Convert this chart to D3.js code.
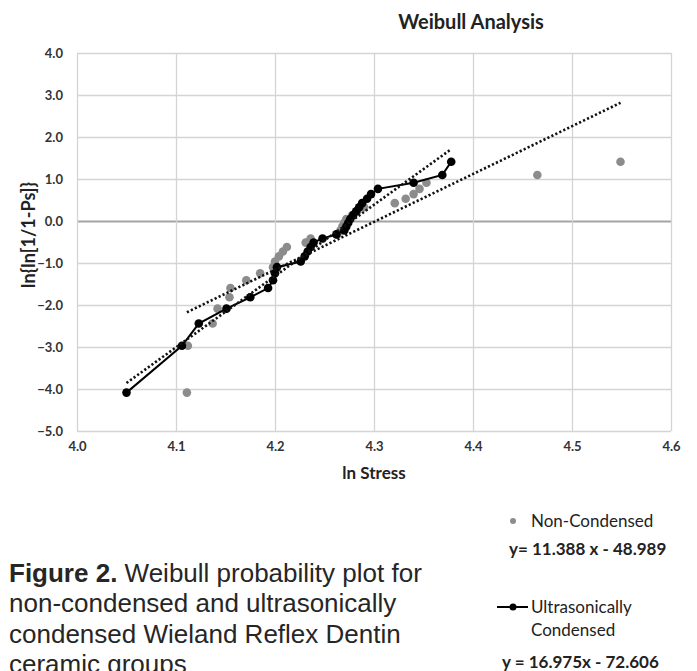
<!DOCTYPE html>
<html lang="en">
  <head>
    <meta charset="utf-8">
    <title>Weibull Analysis</title>
    <script src="https://d3js.org/d3.v7.min.js"></script>
    <style>
      body { margin: 0; background: #fff; }
      svg { display: block; }
    </style>
  </head>
  <body>
    <div id="chart"></div>
    <script>
      // ln{ln[1/(1-Ps)]} values, 30 specimens per group
      var weibullY = [-4.086, -2.970, -2.442, -2.087, -1.817, -1.597, -1.410, -1.246, -1.099, -0.966,
                      -0.842, -0.727, -0.618, -0.514, -0.415, -0.319, -0.225, -0.133, -0.042, 0.049,
                      0.140, 0.232, 0.327, 0.425, 0.529, 0.640, 0.765, 0.910, 1.097, 1.410];

      // ln Stress, non-condensed group (grey dots)
      var nonCondX = [4.111, 4.112, 4.137, 4.142, 4.154, 4.155, 4.171, 4.185, 4.198, 4.200,
                      4.204, 4.208, 4.212, 4.231, 4.236, 4.263, 4.266, 4.268, 4.270, 4.272,
                      4.278, 4.283, 4.290, 4.321, 4.332, 4.340, 4.346, 4.353, 4.465, 4.549];

      // ln Stress, ultrasonically condensed group (black line + dots)
      var ultraX = [4.050, 4.106, 4.123, 4.151, 4.175, 4.193, 4.198, 4.200, 4.202, 4.226,
                    4.230, 4.233, 4.236, 4.239, 4.248, 4.262, 4.270, 4.272, 4.274, 4.276,
                    4.279, 4.282, 4.285, 4.288, 4.293, 4.297, 4.304, 4.340, 4.369, 4.378];

      // trendlines from the legend
      var nonCondFit = {slope: 11.388, intercept: -48.989};
      var ultraFit = {slope: 16.975, intercept: -72.606};

      var xTicks = [4.0, 4.1, 4.2, 4.3, 4.4, 4.5, 4.6];
      var yTicks = [-5, -4, -3, -2, -1, 0, 1, 2, 3, 4];

      var captionLines = [
        "non-condensed and ultrasonically",
        "condensed Wieland Reflex Dentin",
        "ceramic groups"
      ];

      var W = 697, H = 671;
      var margin = {top: 53, left: 77, right: 26, bottom: 240};
      var innerW = W - margin.left - margin.right;
      var innerH = H - margin.top - margin.bottom;

      var svg = d3.select("#chart").append("svg")
        .attr("width", W)
        .attr("height", H);

      var xScale = d3.scaleLinear().domain([4.0, 4.6]).range([margin.left, margin.left + innerW]);
      var yScale = d3.scaleLinear().domain([-5, 4]).range([margin.top + innerH, margin.top]);

      var LABEL_FONT = "Lato, 'Open Sans', sans-serif";

      // grid + axes
      var yAxis = d3.axisLeft(yScale)
        .tickValues(yTicks)
        .tickSize(-innerW)
        .tickPadding(14)
        .tickFormat(d3.format(".1f"));
      var gy = svg.append("g")
        .attr("transform", `translate(${margin.left},0)`)
        .call(yAxis);

      var xAxis = d3.axisBottom(xScale)
        .tickValues(xTicks)
        .tickSize(-innerH)
        .tickPadding(11)
        .tickFormat(d3.format(".1f"));
      var gx = svg.append("g")
        .attr("transform", `translate(0,${margin.top + innerH})`)
        .call(xAxis);

      [gx, gy].forEach(function(g) {
        g.select(".domain").remove();
        g.selectAll(".tick line").attr("stroke", "#d4d4d4").attr("stroke-width", 1.3);
        g.selectAll(".tick text")
          .attr("fill", "#333")
          .style("font-family", LABEL_FONT)
          .style("font-weight", "bold")
          .style("font-size", "13px");
      });
      gy.selectAll(".tick").filter(function(d) { return d === 0; })
        .select("line").attr("stroke", "#a4a4a4").attr("stroke-width", 2);

      // non-condensed points
      svg.append("g").selectAll("circle")
        .data(nonCondX)
        .join("circle")
          .attr("cx", function(d) { return xScale(d); })
          .attr("cy", function(d, i) { return yScale(weibullY[i]); })
          .attr("r", 4.3)
          .attr("fill", "#8c8c8c");

      // ultrasonically condensed line + markers
      var ultraPts = ultraX.map(function(d, i) { return [d, weibullY[i]]; });
      svg.append("path")
        .datum(ultraPts)
        .attr("fill", "none")
        .attr("stroke", "#000")
        .attr("stroke-width", 2)
        .attr("d", d3.line().x(function(d) { return xScale(d[0]); }).y(function(d) { return yScale(d[1]); }));
      svg.append("g").selectAll("circle")
        .data(ultraPts)
        .join("circle")
          .attr("cx", function(d) { return xScale(d[0]); })
          .attr("cy", function(d) { return yScale(d[1]); })
          .attr("r", 4.3)
          .attr("fill", "#000");

      // dotted trendlines
      function trend(fit, xs) {
        var x0 = d3.min(xs), x1 = d3.max(xs);
        svg.append("line")
          .attr("x1", xScale(x0)).attr("y1", yScale(fit.slope * x0 + fit.intercept))
          .attr("x2", xScale(x1)).attr("y2", yScale(fit.slope * x1 + fit.intercept))
          .attr("stroke", "#111")
          .attr("stroke-width", 2.6)
          .attr("stroke-dasharray", "2.2,2.2");
      }
      trend(ultraFit, ultraX);
      trend(nonCondFit, nonCondX);

      // titles
      svg.append("text")
        .text("Weibull Analysis")
        .attr("x", 471).attr("y", 29)
        .attr("text-anchor", "middle")
        .attr("fill", "#222")
        .style("font-family", LABEL_FONT)
        .style("font-weight", "bold")
        .style("font-size", "20px");

      svg.append("text")
        .text("ln Stress")
        .attr("x", xScale(4.3)).attr("y", 479)
        .attr("text-anchor", "middle")
        .attr("fill", "#222")
        .style("font-family", LABEL_FONT)
        .style("font-weight", "bold")
        .style("font-size", "17px");

      svg.append("text")
        .text("ln{ln[1/1-Ps]}")
        .attr("transform", "translate(35,235) rotate(-90)")
        .attr("text-anchor", "middle")
        .attr("fill", "#222")
        .style("font-family", LABEL_FONT)
        .style("font-weight", "bold")
        .style("font-size", "18px");

      // legend
      var legend = svg.append("g").style("font-family", LABEL_FONT).attr("fill", "#222");
      legend.append("circle").attr("cx", 513).attr("cy", 521).attr("r", 3).attr("fill", "#8c8c8c");
      legend.append("text").text("Non-Condensed").attr("x", 531).attr("y", 527).style("font-size", "17px");
      legend.append("text").text("y= 11.388 x - 48.989").attr("x", 509).attr("y", 555)
        .style("font-size", "17px").style("font-weight", "bold");
      legend.append("line").attr("x1", 497).attr("x2", 528).attr("y1", 607).attr("y2", 607)
        .attr("stroke", "#000").attr("stroke-width", 2);
      legend.append("circle").attr("cx", 513).attr("cy", 607).attr("r", 3.5).attr("fill", "#000");
      legend.append("text").text("Ultrasonically").attr("x", 531).attr("y", 613).style("font-size", "17px");
      legend.append("text").text("Condensed").attr("x", 531).attr("y", 636).style("font-size", "17px");
      legend.append("text").text("y = 16.975x - 72.606").attr("x", 502).attr("y", 668)
        .style("font-size", "17px").style("font-weight", "bold");

      // caption
      var cap = svg.append("g")
        .style("font-family", "'Liberation Sans', Arial, sans-serif")
        .style("font-size", "26px")
        .attr("fill", "#262626");
      var first = cap.append("text").attr("x", 9).attr("y", 582);
      first.append("tspan").style("font-weight", "bold").text("Figure 2.");
      first.append("tspan").text(" Weibull probability plot for");
      captionLines.forEach(function(line, i) {
        cap.append("text").attr("x", 9).attr("y", 612 + i * 30.5).text(line);
      });
    </script>
  </body>
</html>
